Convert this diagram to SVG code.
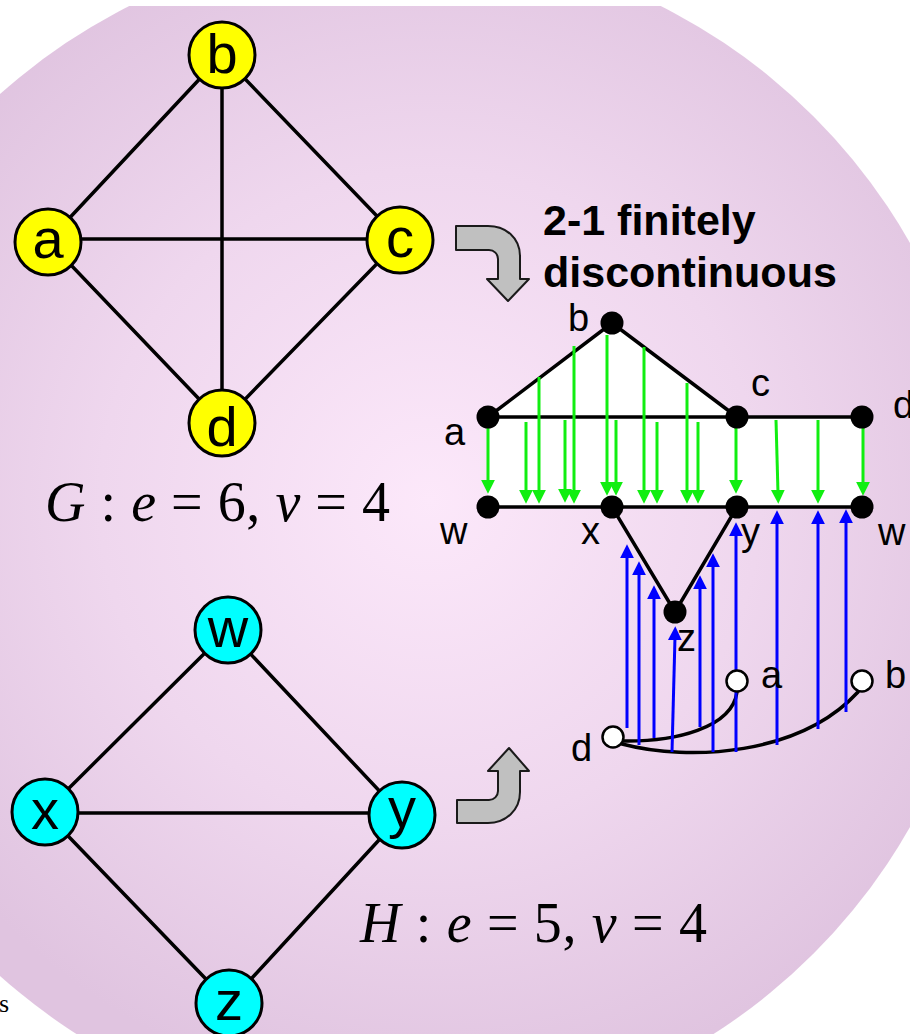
<svg xmlns="http://www.w3.org/2000/svg" width="910" height="1034" viewBox="0 0 910 1034">
<defs>
<radialGradient id="bg" gradientUnits="userSpaceOnUse" cx="430" cy="500" r="600">
<stop offset="0" stop-color="#fce8fa"/>
<stop offset="0.55" stop-color="#efd7ee"/>
<stop offset="1" stop-color="#e0c4e0"/>
</radialGradient>
<marker id="ag" markerUnits="userSpaceOnUse" markerWidth="14" markerHeight="14" viewBox="0 0 13 13" refX="3" refY="6.5" orient="auto">
<path d="M0,0 L13,6.5 L0,13 Z" fill="#11ee11"/>
</marker>
<marker id="ab" markerUnits="userSpaceOnUse" markerWidth="14" markerHeight="14" viewBox="0 0 13 13" refX="3" refY="6.5" orient="auto">
<path d="M0,0 L13,6.5 L0,13 Z" fill="#0000ff"/>
</marker>
<clipPath id="clip"><rect x="0" y="6" width="910" height="1028"/></clipPath>
</defs>
<style>
.e{stroke:#000;stroke-width:3.5;fill:none;stroke-linecap:round}
.ny{fill:#ffff00;stroke:#000;stroke-width:3}
.nc{fill:#00ffff;stroke:#000;stroke-width:3}
.lbl{font-family:"Liberation Sans",Arial,sans-serif;font-size:56px;text-anchor:middle;fill:#000}
.sl{font-family:"Liberation Sans",Arial,sans-serif;font-size:38px;fill:#000}
.math{font-family:"Liberation Serif","Times New Roman",serif;font-size:56px;fill:#000}
.it{font-style:italic}
.g{stroke:#11ee11;stroke-width:3;fill:none;marker-end:url(#ag)}
.b{stroke:#0000ff;stroke-width:3;fill:none;marker-end:url(#ab)}
.dot{fill:#000}
.open{fill:#fff;stroke:#000;stroke-width:2.5}
.turn{fill:#c0c0c0;stroke:#1a1a1a;stroke-width:2;stroke-linejoin:round}
.title{font-family:"Liberation Sans",Arial,sans-serif;font-size:43px;font-weight:bold;fill:#000}
.frag{font-family:"Liberation Serif","Times New Roman",serif;font-size:26px;fill:#000}
</style>
<rect width="910" height="1034" fill="#fff"/>
<circle cx="395" cy="535" r="592" fill="url(#bg)" clip-path="url(#clip)"/>
<text class="frag" x="-1" y="1012">s</text>

<!-- connectors -->
<g id="connectors">
  <g id="G-edges">
    <line class="e" x1="48" y1="241" x2="222" y2="55"/>
    <line class="e" x1="222" y1="55" x2="400" y2="240"/>
    <line class="e" x1="400" y1="240" x2="222" y2="423"/>
    <line class="e" x1="222" y1="423" x2="48" y2="241"/>
    <line class="e" x1="48" y1="239" x2="400" y2="239"/>
    <line class="e" x1="222" y1="55" x2="222" y2="423"/>
  </g>
  <g id="H-edges">
    <line class="e" x1="45" y1="812" x2="228" y2="630"/>
    <line class="e" x1="228" y1="630" x2="402" y2="815"/>
    <line class="e" x1="45" y1="813" x2="402" y2="813"/>
    <line class="e" x1="45" y1="812" x2="229" y2="1003"/>
    <line class="e" x1="402" y1="815" x2="229" y2="1003"/>
  </g>
  <path class="turn" d="M456,226 L488,226 C506,226 520,238 520,256 L520,279 L529,279 L508,301 L487,279 L498,279 L498,259 C498,254 494,250 489,250 L456,250 Z"/>
  <path class="turn" d="M457,823 L488,823 C506,823 520,810 520,792 L520,771 L529,771 L509,748 L488,771 L498,771 L498,791 C498,796 494,800 489,800 L457,800 Z"/>
  <g id="map-shapes">
    <polygon points="488,417 612,323 737,417" fill="#fff"/>
    <rect x="488" y="417" width="374" height="90" fill="#fff"/>
    <polyline class="e" points="488,417 612,323 737,417"/>
    <line class="e" x1="488" y1="417" x2="862" y2="417"/>
    <line class="e" x1="488" y1="507" x2="862" y2="507"/>
    <polyline class="e" points="612,507 675,612 737,507"/>
    <path class="e" d="M622,741 C675,742 732,728 737,692"/>
    <path class="e" d="M622,744 C690,762 800,755 858,692"/>
  </g>
  <g id="green-arrows">
    <line class="g" x1="488" y1="428" x2="488" y2="483"/>
    <line class="g" x1="526" y1="422" x2="526" y2="493"/>
    <line class="g" x1="539" y1="377" x2="539" y2="493"/>
    <line class="g" x1="565" y1="420" x2="565" y2="492"/>
    <line class="g" x1="574" y1="346" x2="574" y2="493"/>
    <line class="g" x1="607" y1="335" x2="607" y2="485"/>
    <line class="g" x1="616" y1="420" x2="616" y2="485"/>
    <line class="g" x1="644" y1="347" x2="644" y2="493"/>
    <line class="g" x1="657" y1="422" x2="657" y2="493"/>
    <line class="g" x1="687" y1="383" x2="687" y2="493"/>
    <line class="g" x1="698" y1="422" x2="698" y2="493"/>
    <line class="g" x1="736" y1="428" x2="736" y2="483"/>
    <line class="g" x1="776" y1="420" x2="778" y2="493"/>
    <line class="g" x1="818" y1="420" x2="818" y2="493"/>
    <line class="g" x1="863" y1="428" x2="863" y2="485"/>
  </g>
  <g id="blue-arrows">
    <line class="b" x1="627" y1="728" x2="627" y2="555"/>
    <line class="b" x1="639" y1="745" x2="639" y2="572"/>
    <line class="b" x1="654" y1="738" x2="654" y2="596"/>
    <line class="b" x1="672" y1="752" x2="675" y2="637"/>
    <line class="b" x1="700" y1="727" x2="700" y2="586"/>
    <line class="b" x1="713" y1="752" x2="713" y2="564"/>
    <line class="b" x1="736" y1="752" x2="736" y2="533"/>
    <line class="b" x1="777" y1="745" x2="777" y2="521"/>
    <line class="b" x1="818" y1="729" x2="818" y2="521"/>
    <line class="b" x1="846" y1="712" x2="846" y2="520"/>
  </g>
</g>

<!-- G nodes -->
<g id="node-b"><circle class="ny" cx="222" cy="55" r="33"/><text class="lbl" x="222" y="73">b</text></g>
<g id="node-a"><circle class="ny" cx="48" cy="242" r="33"/><text class="lbl" x="48" y="258">a</text></g>
<g id="node-c"><circle class="ny" cx="400" cy="240" r="33"/><text class="lbl" x="400" y="257">c</text></g>
<g id="node-d"><circle class="ny" cx="222" cy="423" r="33"/><text class="lbl" x="222" y="446">d</text></g>

<!-- H nodes -->
<g id="node-w"><circle class="nc" cx="228" cy="630" r="33"/><text class="lbl" x="228" y="647">w</text></g>
<g id="node-x"><circle class="nc" cx="45" cy="812" r="33"/><text class="lbl" x="45" y="829">x</text></g>
<g id="node-y"><circle class="nc" cx="402" cy="815" r="33"/><text class="lbl" x="402" y="827">y</text></g>
<g id="node-z"><circle class="nc" cx="229" cy="1003" r="33"/><text class="lbl" x="229" y="1020">z</text></g>

<g id="label-G"><text class="math" x="45" y="521" textLength="345"><tspan class="it">G</tspan> : <tspan class="it">e</tspan> = 6, <tspan class="it">v</tspan> = 4</text></g>
<g id="label-H"><text class="math" x="360" y="942" textLength="347"><tspan class="it">H</tspan> : <tspan class="it">e</tspan> = 5, <tspan class="it">v</tspan> = 4</text></g>

<g id="title">
  <text class="title" x="543" y="235">2-1 finitely</text>
  <text class="title" x="543" y="287">discontinuous</text>
</g>

<!-- mapped graph nodes -->
<g id="m-b"><circle class="dot" cx="612" cy="323" r="11.5"/><text class="sl" x="568" y="331">b</text></g>
<g id="m-a"><circle class="dot" cx="488" cy="417" r="11.5"/><text class="sl" x="444" y="445">a</text></g>
<g id="m-c"><circle class="dot" cx="737" cy="417" r="11.5"/><text class="sl" x="751" y="396">c</text></g>
<g id="m-d"><circle class="dot" cx="862" cy="417" r="11.5"/><text class="sl" x="893" y="418">d</text></g>
<g id="m-w1"><circle class="dot" cx="488" cy="507" r="11.5"/><text class="sl" x="440" y="544">w</text></g>
<g id="m-x"><circle class="dot" cx="612" cy="507" r="11.5"/><text class="sl" x="581" y="544">x</text></g>
<g id="m-y"><circle class="dot" cx="737" cy="507" r="11.5"/><text class="sl" x="741" y="545">y</text></g>
<g id="m-w2"><circle class="dot" cx="862" cy="507" r="11.5"/><text class="sl" x="878" y="545">w</text></g>
<g id="m-z"><circle class="dot" cx="675" cy="612" r="11.5"/><text class="sl" x="677" y="651">z</text></g>
<g id="o-a"><circle class="open" cx="737" cy="681" r="10.5"/><text class="sl" x="761" y="688">a</text></g>
<g id="o-b"><circle class="open" cx="862" cy="681" r="10.5"/><text class="sl" x="885" y="688">b</text></g>
<g id="o-d"><circle class="open" cx="613" cy="737" r="10.5"/><text class="sl" x="571" y="761">d</text></g>
</svg>
